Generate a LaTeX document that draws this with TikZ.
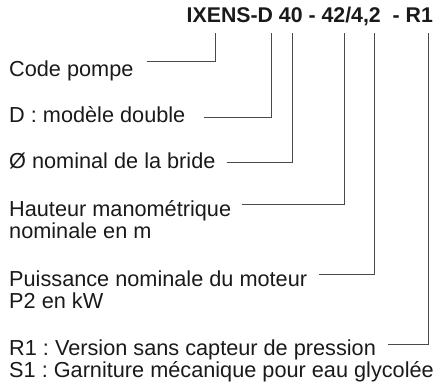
\documentclass[tikz,border=0pt]{standalone}
\usepackage{fontspec}
\setmainfont{Liberation Sans}
\usetikzlibrary{positioning}
\definecolor{leadgray}{HTML}{4A4A4A}
\definecolor{inkblack}{HTML}{1A1A1A}
\frenchspacing

\begin{document}
\begin{tikzpicture}[
  x=1pt, y=-1pt,
  desc/.style={anchor=base west, inner sep=0pt, align=left,
    font=\fontsize{21.7}{22}\selectfont, text=inkblack},
  typecode/.style={anchor=base west, inner sep=0pt,
    font=\bfseries\fontsize{21.3}{22}\selectfont, text=inkblack},
  leader/.style={draw=leadgray, line width=0.9pt}
]
  \useasboundingbox (0,0) rectangle (441,387);

  % Type code
  \node[typecode] (type) at (186.5,23) {IXENS-D 40 - 42/4,2\ \ - R1};

  % Descriptions (base = last line)
  \node[desc] (code) at (9,76.5) {Code pompe};
  \node[desc] (dbl) at (9,122.5) {D : modèle double};
  \node[desc] (bride) at (9,168.5) {Ø nominal de la bride};
  \node[desc] (haut) at (9,238) {Hauteur manométrique\\nominale en m};
  \node[desc] (puis) at (9,308) {Puissance nominale du moteur\\P2 en kW};
  \node[desc] (vers) at (9,377) {R1 : Version sans capteur de pression\\S1 : Garniture mécanique pour eau glycolée};

  % Leaders
  \foreach \n/\xs/\ys/\xt in {code/147/61.7/215.3, dbl/204/117.3/271,
    bride/226.7/162.7/292.7, haut/241.7/204.7/344.3,
    puis/319/274/374.5, vers/388/344.3/428.5} {
    \coordinate (\n-s) at (\xs,\ys);
    \coordinate (\n-t) at (\xt,33);
    \draw[leader] (\n-s) -| (\n-t);
  }
\end{tikzpicture}
\end{document}
